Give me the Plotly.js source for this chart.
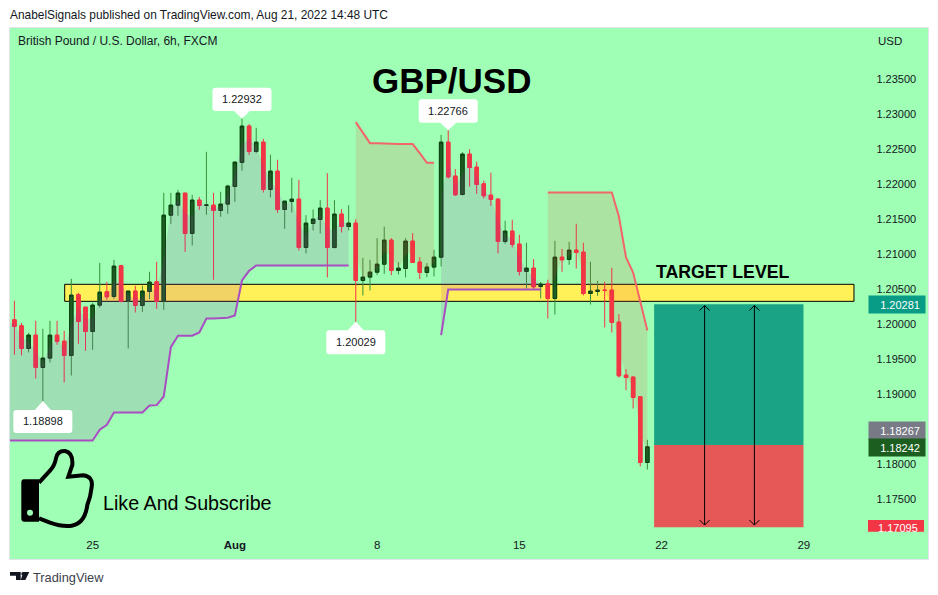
<!DOCTYPE html>
<html><head><meta charset="utf-8">
<script src="https://cdn.plot.ly/plotly-3.0.1.min.js"></script>
<style>html,body{margin:0;padding:0;background:#fff}</style></head>
<body><div id="chart" style="width:938px;height:595px"></div>
<script>
const open_=[1.20057,1.19971,1.19648,1.19838,1.19376,1.19510,1.19838,1.19752,1.19548,1.20414,1.20238,1.19890,1.20267,1.20457,1.20390,1.20829,1.20329,1.20467,1.20262,1.20462,1.20600,1.20324,1.21552,1.21695,1.21867,1.21290,1.21767,1.21693,1.21695,1.21619,1.21710,1.21962,1.22305,1.22824,1.22462,1.22595,1.21919,1.22181,1.21633,1.21748,1.21781,1.21090,1.21433,1.21490,1.21652,1.21090,1.21567,1.21390,1.21438,1.20619,1.20667,1.20738,1.20852,1.21195,1.20762,1.20790,1.21181,1.20881,1.20733,1.20810,1.20952,1.22595,1.22110,1.21848,1.22424,1.22238,1.22000,1.21838,1.21781,1.21176,1.21324,1.21138,1.20748,1.20795,1.20533,1.20571,1.20362,1.20952,1.20919,1.21052,1.21024,1.20433,1.20462,1.20481,1.20481,1.20024,1.19267,1.19238,1.18957,1.18019];
const high_=[1.20329,1.20010,1.19871,1.20043,1.19929,1.20043,1.20043,1.19900,1.20643,1.20443,1.20238,1.20295,1.20871,1.20600,1.20914,1.20843,1.20467,1.20543,1.20543,1.20743,1.20886,1.21871,1.21871,1.21914,1.21867,1.21843,1.21814,1.22457,1.21871,1.21886,1.21986,1.22310,1.22932,1.22852,1.22800,1.22643,1.22414,1.22343,1.21752,1.22086,1.22057,1.21552,1.21633,1.21767,1.22152,1.21767,1.21638,1.21695,1.21495,1.20943,1.20914,1.21224,1.21386,1.21224,1.20881,1.21224,1.21295,1.20952,1.20867,1.21057,1.22700,1.22766,1.22210,1.22452,1.22495,1.22314,1.22043,1.22157,1.21795,1.21471,1.21486,1.21271,1.21157,1.20924,1.20600,1.20629,1.21186,1.21071,1.21171,1.21429,1.21157,1.20886,1.20614,1.20600,1.20800,1.20138,1.19352,1.19252,1.18967,1.18343];
const low_=[1.19557,1.19548,1.19590,1.19219,1.18898,1.19448,1.19700,1.19162,1.19262,1.19714,1.19614,1.19629,1.20233,1.20343,1.20357,1.20305,1.19648,1.20162,1.20171,1.20352,1.20214,1.20200,1.21429,1.21543,1.21029,1.21119,1.21629,1.21557,1.20629,1.21529,1.21571,1.21743,1.22186,1.22414,1.22438,1.21876,1.21805,1.21586,1.21357,1.21590,1.21048,1.21005,1.21333,1.21290,1.20662,1.21076,1.21305,1.21333,1.20029,1.20405,1.20476,1.20695,1.20714,1.20695,1.20705,1.20662,1.20876,1.20638,1.20667,1.20676,1.20819,1.22076,1.21829,1.21833,1.21962,1.21857,1.21790,1.21686,1.21005,1.21143,1.21090,1.20690,1.20505,1.20500,1.20362,1.20076,1.20133,1.20743,1.20843,1.20790,1.20405,1.20276,1.20400,1.19948,1.19876,1.19233,1.19052,1.18790,1.17962,1.17919];
const close_=[1.19962,1.19648,1.19838,1.19376,1.19510,1.19838,1.19748,1.19548,1.20410,1.20033,1.19890,1.20267,1.20452,1.20386,1.20824,1.20319,1.20467,1.20262,1.20467,1.20595,1.20319,1.21552,1.21695,1.21867,1.21290,1.21767,1.21690,1.21697,1.21619,1.21710,1.21967,1.22310,1.22824,1.22462,1.22595,1.21919,1.22181,1.21633,1.21752,1.21781,1.21090,1.21438,1.21495,1.21652,1.21090,1.21567,1.21390,1.21438,1.20619,1.20667,1.20738,1.20852,1.21195,1.20762,1.20795,1.21181,1.20876,1.20733,1.20810,1.20952,1.22595,1.22100,1.21843,1.22424,1.22233,1.21990,1.21829,1.21776,1.21176,1.21324,1.21133,1.20748,1.20795,1.20529,1.20567,1.20362,1.20952,1.20914,1.21052,1.21019,1.20433,1.20467,1.20481,1.20476,1.20019,1.19257,1.19233,1.18948,1.18019,1.18242];

// trailing-stop levels, one value per candle, by segment
const stopUpA=[1.18333,1.18333,1.18333,1.18333,1.18333,1.18333,1.18333,1.18333,1.18333,1.18333,1.18333,1.18333,1.18486,1.18557,1.18733,1.18733,1.18733,1.18733,1.18733,1.18833,1.18838,1.18962,1.19667,1.19829,1.19829,1.19829,1.19876,1.20076,1.20076,1.20076,1.20086,1.20119,1.20619,1.20757,1.20833,1.20833,1.20833,1.20833,1.20833,1.20833,1.20833,1.20833,1.20833,1.20833,1.20833,1.20833,1.20833,1.20833];
const stopDownA=[1.22881,1.22724,1.22581,1.22581,1.22581,1.22571,1.22567,1.22567,1.22567,1.22438,1.22300,1.22300];
const stopUpB=[1.19838,1.20490,1.20490,1.20490,1.20490,1.20490,1.20490,1.20490,1.20490,1.20490,1.20490,1.20490,1.20490,1.20490,1.20490];
const stopDownB=[1.21876,1.21876,1.21876,1.21876,1.21876,1.21876,1.21876,1.21876,1.21876,1.21876,1.21533,1.20948,1.20733,1.20319,1.19905];

const priceTicks=[1.175,1.18,1.19,1.195,1.20,1.205,1.21,1.215,1.22,1.225,1.23,1.235];
const dateTickBars=[11,31,51,71,91,111];
const dateTickLabels=['25','<b>Aug</b>','8','15','22','29'];

const zoneTop=1.20564, zoneBottom=1.20321, zoneStartBar=7.07, zoneEndBar=118.05;
const targetPrice=1.20281, entryPrice=1.18267, stopPrice=1.17095, lastPrice=1.18242;
const boxStartBar=89.95, boxEndBar=110.95, arrowBars=[97.05,104.05];

const W=938,H=595,L=10,R=928,T=28,B=559;
const barPx=7.112, bar0=14.4;
const yAt1_2=323.8, pxPerUnit=7000;
const bars=open_.map((_,i)=>i);
const mid=open_.map((o,i)=>(o+close_[i])/2);
const px=x=>(x-L)/(R-L), py=y=>(B-y)/(B-T);
const priceOfPx=y=>1.2+(yAt1_2-y)/pxPerUnit;

const PURPLE='#a94ec2', REDL='#f2656a';
const FILLP='rgba(156,39,176,0.15)', FILLR='rgba(244,67,54,0.15)';
const traces=[];
function zone(start,stop,lineCol,fillCol,lead){
  let xs=stop.map((_,k)=>start+k), st=stop.slice(), md=xs.map(i=>mid[i]);
  if(lead){xs=[-1].concat(xs);st=[stop[0]].concat(st);md=[mid[0]].concat(md);}
  traces.push({type:'scatter',mode:'lines',x:xs,y:st,line:{color:lineCol,width:2},hoverinfo:'skip',showlegend:false});
  traces.push({type:'scatter',mode:'none',x:xs,y:md,fill:'tonexty',fillcolor:fillCol,hoverinfo:'skip',showlegend:false});
}
zone(0,stopUpA,PURPLE,FILLP,true);
zone(48,stopDownA,REDL,FILLR);
zone(60,stopUpB,PURPLE,FILLP);
zone(75,stopDownB,REDL,FILLR);

const WICKG='#37903c', RED='#f23645', BODYG='#1b5e20', EDGEG='#0d3f13';
traces.push({type:'candlestick',x:bars,open:open_,high:high_,low:low_,close:close_,whiskerwidth:0,
  increasing:{line:{color:WICKG,width:1},fillcolor:BODYG},decreasing:{line:{color:RED,width:1},fillcolor:RED},
  hoverinfo:'skip',showlegend:false});
traces.push({type:'candlestick',x:bars,open:open_,close:close_,
  high:open_.map((o,i)=>Math.max(o,close_[i])),low:open_.map((o,i)=>Math.min(o,close_[i])),whiskerwidth:0,
  increasing:{line:{color:EDGEG,width:1},fillcolor:BODYG},decreasing:{line:{color:RED,width:1},fillcolor:RED},
  hoverinfo:'skip',showlegend:false});

const shapes=[
 {type:'rect',layer:'below',xref:'x',yref:'y',x0:zoneStartBar,x1:zoneEndBar,y0:zoneBottom,y1:zoneTop,fillcolor:'#fff157',line:{color:'#000',width:1}},
 {type:'rect',layer:'above',xref:'x',yref:'y',x0:boxStartBar,x1:boxEndBar,y0:entryPrice,y1:targetPrice,fillcolor:'#1aa485',line:{width:0}},
 {type:'rect',layer:'above',xref:'x',yref:'y',x0:boxStartBar,x1:boxEndBar,y0:stopPrice,y1:entryPrice,fillcolor:'#e65858',line:{width:0}},
 {type:'rect',layer:'above',xref:'paper',yref:'paper',x0:px(9.5),x1:px(928.5),y0:py(559.5),y1:py(27.5),line:{color:'#e0e3eb',width:1}},
];
arrowBars.forEach(b=>{
 shapes.push({type:'line',layer:'above',xref:'x',yref:'y',x0:b,x1:b,y0:stopPrice+0.0003,y1:targetPrice-0.0002,line:{color:'#000',width:1}});
 [[stopPrice+0.0003,1],[targetPrice-0.0002,-1]].forEach(([p,s])=>{
  shapes.push({type:'path',layer:'above',xref:'x',yref:'y',xsizemode:'pixel',ysizemode:'pixel',xanchor:b,yanchor:p,
    path:`M-5,${5*s} L0,0 L5,${5*s}`,line:{color:'#000',width:1}});
 });
});
// white callouts with a pointer
const annotations=[];
function callout(bar,price,txt,w,h,dir,gap){
  const hw=w/2,r=3;            // dir=+1 box above the tip, -1 box below
  const s=dir, a=gap*s, b=(gap+h)*s;
  const path=`M0,0 L-8,${a} L${-hw+r},${a} Q${-hw},${a} ${-hw},${a+r*s} L${-hw},${b-r*s} Q${-hw},${b} ${-hw+r},${b} L${hw-r},${b} Q${hw},${b} ${hw},${b-r*s} L${hw},${a+r*s} Q${hw},${a} ${hw-r},${a} L8,${a} Z`;
  shapes.push({type:'path',layer:'above',xref:'x',yref:'y',xsizemode:'pixel',ysizemode:'pixel',xanchor:bar,yanchor:price,path:path,fillcolor:'#fff',line:{width:0}});
  annotations.push({xref:'x',yref:'y',x:bar,y:price,yshift:(gap+h/2)*s,text:txt,showarrow:false,font:{family:'Liberation Sans',size:11,color:'#131722'}});
}
callout(32,1.22932,'1.22932',59,23.4,1,7.5);
callout(61,1.22766,'1.22766',59,23.4,1,7.5);
callout(48,1.20029,'1.20029',59,24,-1,8.4);
callout(4,1.18898,'1.18898',59,23,-1,9);

// thumbs-up, drawn in page pixels relative to the plot's lower-left corner
const zx=v=>(v/3+0-L).toFixed(1), zy=v=>(B-(440+v/3)).toFixed(1);
const outline=[['M',117,128],['L',150,92],['Q',165,75,168,55],['Q',172,32,195,33],['Q',220,38,217,75],['L',205,110],['L',250,106],['Q',280,110,275,140],['Q',272,170,262,195],['Q',255,250,215,257],['Q',190,262,150,248],['L',117,235]];
const toPath=a=>a.map(c=>{let s=c[0];for(let i=1;i<c.length;i+=2)s+=` ${zx(c[i])},${zy(c[i+1])}`;return s;}).join(' ');
const paperPx={type:'path',layer:'above',xref:'paper',yref:'paper',xsizemode:'pixel',ysizemode:'pixel',xanchor:0,yanchor:0};
shapes.push(Object.assign({},paperPx,{path:toPath(outline),line:{color:'#000',width:4}}));
shapes.push(Object.assign({},paperPx,{path:toPath([['M',72,118],['L',117,118],['L',117,245],['L',72,245],['Q',64,245,64,235],['L',64,128],['Q',64,118,72,118],['Z']]),fillcolor:'#000',line:{width:0}}));
shapes.push(Object.assign({},paperPx,{path:toPath([['M',81,218],['Q',81,209,90,209],['Q',99,209,99,218],['Q',99,227,90,227],['Q',81,227,81,218],['Z']]),fillcolor:'#9fffb5',line:{width:0}}));
// TradingView mark
shapes.push(Object.assign({},paperPx,{path:toPath([['M',30,396],['L',62,396],['L',62,420],['L',48,420],['L',48,407],['L',30,407],['Z']]),fillcolor:'#131722',line:{width:0}}));
shapes.push(Object.assign({},paperPx,{path:toPath([['M',70,396],['L',88,396],['L',76,420],['L',62,420],['Z']]),fillcolor:'#131722',line:{width:0}}));
shapes.push(Object.assign({},paperPx,{path:toPath([['M',64,401],['Q',64,396,69,396],['Q',74,396,74,401],['Q',74,406,69,406],['Q',64,406,64,401],['Z']]),fillcolor:'#131722',line:{width:0}}));
// stop-price tag background (runs short of its text, as in the source)
shapes.push({type:'rect',layer:'above',xref:'paper',yref:'paper',x0:px(868),x1:px(924),y0:py(531.7),y1:py(520),fillcolor:'#f23645',line:{width:0}});

const F='Liberation Sans';
function txt(x,y,s,size,opts){
  annotations.push(Object.assign({xref:'paper',yref:'paper',x:px(x-2),y:py(y),text:s,showarrow:false,xanchor:'left',yanchor:'middle',
    font:{family:F,size:size,color:'#131722'}},opts||{}));
}
txt(10,15,'AnabelSignals published on TradingView.com, Aug 21, 2022 14:48 UTC',11.9);
txt(18,41,'British Pound / U.S. Dollar, 6h, FXCM',12);
txt(878,41,'USD',11.5);
txt(453.5,80,'<b>GBP/USD</b>',35,{xanchor:'center',font:{family:F,size:35,color:'#000'}});
txt(656,272,'<b>TARGET LEVEL</b>',17.7,{font:{family:F,size:17.7,color:'#000'}});
txt(103,503,'Like And Subscribe',19.7,{font:{family:F,size:19.7,color:'#000'}});
txt(33,577,'TradingView',12.8,{font:{family:F,size:12.8,color:'#3c3f4a'}});

function priceTag(label,bg,yMid){
  annotations.push({xref:'paper',yref:'paper',x:px(868),y:py(yMid),xanchor:'left',yanchor:'middle',
    text:'&nbsp;&nbsp;'+label,showarrow:false,width:56,height:17,bgcolor:bg,borderpad:0,align:'center',valign:'middle',
    font:{family:F,size:11,color:'#fff'}});
}
priceTag('1.20281','#089b85',304.3);
priceTag('1.18267','#787b86',430.5);
priceTag('1.18242','#1b5e20',447.5);
annotations.push({xref:'paper',yref:'paper',x:px(897.5),y:py(527.6),xanchor:'center',yanchor:'middle',text:'1.17095',showarrow:false,font:{family:F,size:11,color:'#fff'}});

const layout={
 width:W,height:H,margin:{l:L,r:W-R,t:T,b:H-B,pad:0},
 paper_bgcolor:'#fff',plot_bgcolor:'#9fffb5',showlegend:false,
 xaxis:{type:'linear',range:[(L-bar0)/barPx,(R-bar0)/barPx],autorange:false,showgrid:false,zeroline:false,showline:false,
   rangeslider:{visible:false},tickmode:'array',tickvals:dateTickBars,ticktext:dateTickLabels,
   ticklabelposition:'inside',ticks:'inside',ticklen:7,tickcolor:'rgba(0,0,0,0)',tickfont:{family:F,size:11.5,color:'#131722'}},
 yaxis:{type:'linear',side:'right',range:[priceOfPx(B),priceOfPx(T)],autorange:false,showgrid:false,zeroline:false,showline:false,
   tickmode:'array',tickvals:priceTicks,ticktext:priceTicks.map(v=>v.toFixed(5)),
   ticklabelposition:'inside',ticks:'inside',ticklen:11,tickcolor:'rgba(0,0,0,0)',tickfont:{family:F,size:11,color:'#131722'}},
 shapes:shapes,annotations:annotations,hovermode:false
};
Plotly.newPlot('chart',traces,layout,{displayModeBar:false,responsive:false});
</script></body></html>
